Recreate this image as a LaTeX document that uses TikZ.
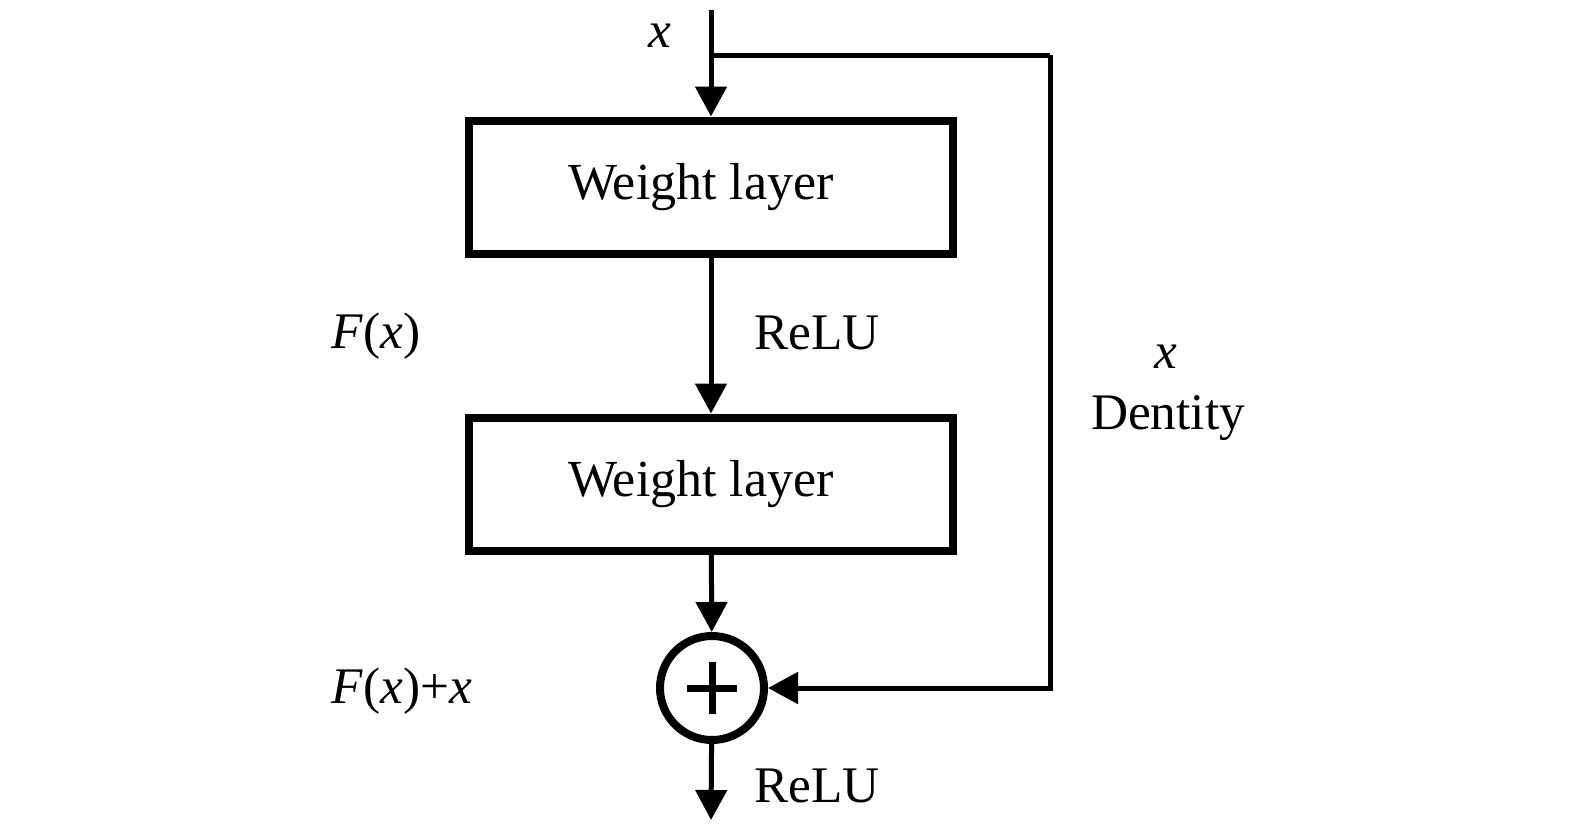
\documentclass[tikz,border=0pt]{standalone}
\usepackage{fontspec}
\setmainfont{Liberation Serif}
\usetikzlibrary{arrows.meta,positioning,calc}

\begin{document}
\begin{tikzpicture}[
    box/.style={draw, line width=0.08cm, minimum width=4.84cm, minimum height=1.33cm,
                font=\fontsize{14.8}{17}\selectfont, align=center},
    lbl/.style={font=\fontsize{14.6}{17}\selectfont, inner sep=0pt},
    arr/.style={-{Triangle[length=0.3cm, width=0.31cm]}, line width=0.05cm},
    sumnode/.style={draw, circle, line width=0.08cm, minimum size=1.04cm, inner sep=0pt},
]
  \useasboundingbox (0,0) rectangle (15.75,-8.31);

  % Blocks
  \node[box] (wl1) at (7.11,-1.87) {Weight layer\hspace{0.2cm}};
  \node[box] (wl2) at (7.11,-4.84) {Weight layer\hspace{0.2cm}};
  \node[sumnode] (sum) at (7.12,-6.88) {};
  \draw[line width=0.07cm] ($(sum)+(-0.25,0)$) -- ($(sum)+(0.25,0)$)
                           ($(sum)+(0,-0.26)$) -- ($(sum)+(0,0.26)$);

  % Ends of the free connectors
  \coordinate (in) at (7.11,-0.1);
  \coordinate (branch) at (7.11,-0.55);
  \coordinate (skip) at (10.5,-0.55);
  \coordinate (out) at (7.11,-8.2);

  % Arrows
  \draw[arr] (in) -- (wl1);
  \draw[arr] (wl1) -- (wl2);
  \draw[arr] (wl2) -- (sum);
  \draw[arr] (sum) -- (out);
  \draw[line width=0.05cm] (branch) -- (skip);
  \draw[arr] (skip) |- (sum);

  % Labels
  \node[lbl] (xin) at (6.60,-0.36) {\textit{x}};
  \node[lbl] (relu1) at (8.17,-3.33) {ReLU};
  \node[lbl] (fx) at (3.76,-3.36) {\textit{F}(\textit{x})};
  \node[lbl] (xid) at (11.66,-3.57) {\textit{x}};
  \node[lbl] (dent) at (11.68,-4.18) {Dentity};
  \node[lbl] (fxx) at (4.02,-6.91) {\textit{F}(\textit{x})+\textit{x}};
  \node[lbl] (relu2) at (8.17,-7.86) {ReLU};
\end{tikzpicture}
\end{document}
